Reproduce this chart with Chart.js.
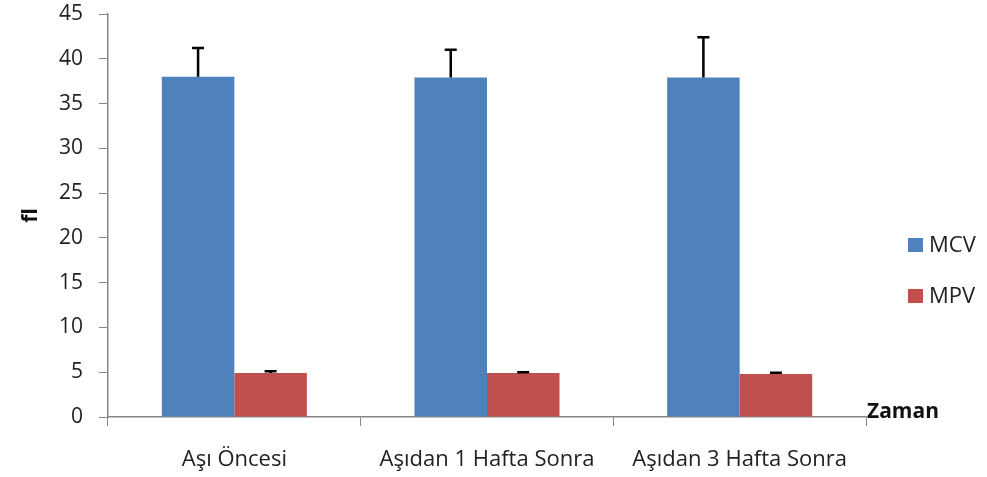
<!DOCTYPE html>
<html>
<head>
<meta charset="utf-8">
<script src="https://cdn.jsdelivr.net/npm/chart.js@4/dist/chart.umd.min.js"></script>
<style>
  html, body { margin: 0; padding: 0; background: #fff; }
  #wrap { width: 987px; height: 477px; }
</style>
</head>
<body>
<div id="wrap"><canvas id="chart" width="987" height="477"></canvas></div>
<script>
// data
const categories = ['Aşı Öncesi', 'Aşıdan 1 Hafta Sonra', 'Aşıdan 3 Hafta Sonra'];
const mcv = [38.0, 37.9, 37.9];
const mcvErr = [3.2, 3.1, 4.5];
const mpv = [4.9, 4.9, 4.8];
const mpvErr = [0.2, 0.1, 0.15];
const yTicks = [0, 5, 10, 15, 20, 25, 30, 35, 40, 45];

const FONT = '"Open Sans", Lato, sans-serif';
const axisGray = '#868686';

// plus-only error bars with caps, drawn from the scales
const errorBars = {
    id: 'errorBars',
    afterDatasetsDraw(chart) {
        const ctx = chart.ctx;
        const y = chart.scales.y;
        const errs = [mcvErr, mpvErr];
        chart.data.datasets.forEach((ds, i) => {
            const meta = chart.getDatasetMeta(i);
            meta.data.forEach((bar, j) => {
                const top = y.getPixelForValue(ds.data[j] + errs[i][j]);
                ctx.save();
                ctx.strokeStyle = '#000';
                ctx.lineWidth = 2.5;
                ctx.beginPath();
                ctx.moveTo(bar.x, bar.y);
                ctx.lineTo(bar.x, top);
                ctx.moveTo(bar.x - 6, top);
                ctx.lineTo(bar.x + 6, top);
                ctx.stroke();
                ctx.restore();
            });
        });
    }
};

// legend on the right plus the "Zaman" axis title
const extras = {
    id: 'extras',
    afterDraw(chart) {
        const ctx = chart.ctx;
        const area = chart.chartArea;
        ctx.save();
        const items = [['MCV', '#4F81BD'], ['MPV', '#C0504D']];
        items.forEach((it, i) => {
            const cy = 245 + i * 51;
            ctx.fillStyle = it[1];
            ctx.fillRect(908, cy - 7, 15, 14);
            ctx.fillStyle = '#222';
            ctx.font = '22px ' + FONT;
            ctx.textBaseline = 'middle';
            ctx.textAlign = 'left';
            ctx.fillText(it[0], 929, cy + 1);
        });
        ctx.font = 'bold 21px ' + FONT;
        ctx.fillStyle = '#111';
        ctx.textBaseline = 'middle';
        ctx.fillText('Zaman', area.right + 1, area.bottom - 5);
        ctx.restore();
    }
};

new Chart(document.getElementById('chart'), {
    type: 'bar',
    data: {
        labels: categories,
        datasets: [
            { label: 'MCV', data: mcv, backgroundColor: '#4F81BD' },
            { label: 'MPV', data: mpv, backgroundColor: '#C0504D' }
        ]
    },
    options: {
        responsive: false,
        animation: false,
        layout: { padding: { top: 14, right: 121, left: 0, bottom: 0 } },
        datasets: { bar: { categoryPercentage: 0.574, barPercentage: 1.0 } },
        plugins: { legend: { display: false }, tooltip: { enabled: false } },
        scales: {
            x: {
                grid: { display: true, drawOnChartArea: false, offset: true, color: axisGray, tickLength: 9 },
                border: { color: axisGray, width: 1.5 },
                ticks: { color: '#222', font: { family: FONT, size: 22 }, padding: 21 },
                afterFit(scale) { scale.height = 60; scale.paddingTop = 0; }
            },
            y: {
                min: 0, max: 45,
                afterBuildTicks(scale) { scale.ticks = yTicks.map(v => ({ value: v })); },
                grid: { display: true, drawOnChartArea: false, color: axisGray, tickLength: 9 },
                border: { color: axisGray, width: 1.5 },
                ticks: { color: '#222', font: { family: FONT, size: 21 }, padding: 16 },
                title: { display: true, text: 'fl', color: '#111', font: { family: FONT, size: 21, weight: 'bold' }, padding: { top: 18, bottom: 0 } },
                afterFit(scale) { scale.width = 108; scale.paddingTop = 0; scale.paddingBottom = 0; }
            }
        }
    },
    plugins: [errorBars, extras]
});
</script>
</body>
</html>
